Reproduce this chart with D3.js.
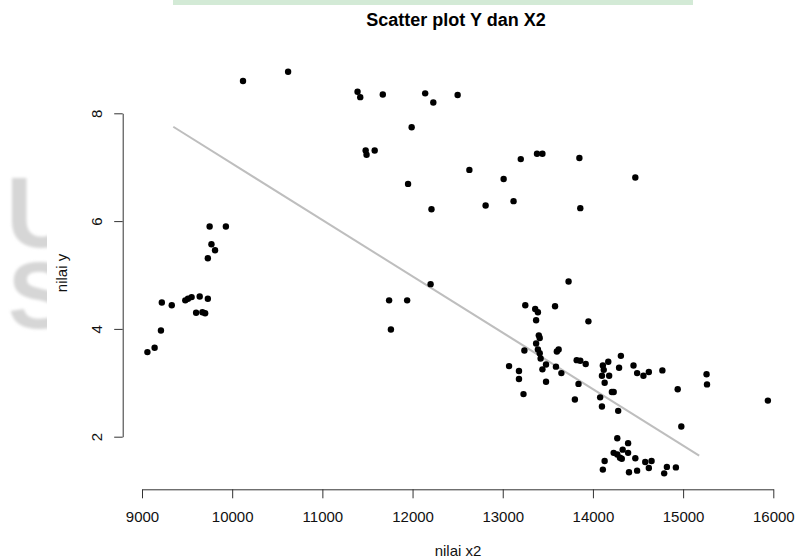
<!DOCTYPE html>
<html>
<head>
<meta charset="utf-8">
<title>Scatter plot Y dan X2</title>
<script src="https://cdn.jsdelivr.net/npm/d3@7"></script>
<style>
  html, body { margin: 0; padding: 0; background: #fff; }
  #chart { width: 795px; height: 559px; }
  text { font-family: "Liberation Sans", Arial, sans-serif; }
</style>
</head>
<body>
<div id="chart"></div>
<script>
"use strict";

const x2Values = [
  10120, 10620, 11390, 11420, 11670, 12140, 12230, 12500, 11990, 11480, 11490, 11580,
  11950, 12210, 12630, 13010, 12810, 13120, 13200, 13380, 13440, 13850, 14470, 13860,
  9750, 9930, 9770, 9810, 9730, 9220, 9330, 9480, 9510, 9550, 9640, 9730, 9600, 9670,
  9700, 9210, 9140, 9060,
  11740, 11940, 11760, 12200,
  13730, 13250, 13360, 13390, 13580, 13370, 13950, 13400, 13410, 13370,
  13240, 13390, 13410, 13600, 13620, 13420, 13480, 13440, 13590, 13650,
  13070, 13180, 13180, 13480, 13230, 13820, 13860, 13920, 13840, 13800,
  14170, 14110, 14120, 14100, 14180, 14130, 14310, 14290, 14450, 14490,
  14560, 14620, 14770, 14210, 14230, 14080, 14100, 14280, 14940, 15260,
  15265, 14980, 15940,
  14270, 14390, 14330, 14230, 14270, 14300, 14320, 14390, 14470, 14130,
  14110, 14400, 14490, 14580, 14650, 14620, 14790, 14820, 14920
];

const yValues = [
  8.60, 8.77, 8.40, 8.30, 8.35, 8.37, 8.20, 8.34, 7.74, 7.31, 7.23, 7.31,
  6.69, 6.22, 6.95, 6.78, 6.29, 6.37, 7.15, 7.25, 7.25, 7.17, 6.81, 6.24,
  5.90, 5.90, 5.57, 5.46, 5.31, 4.49, 4.44, 4.53, 4.56, 4.59, 4.60, 4.56, 4.30, 4.31,
  4.29, 3.97, 3.65, 3.57,
  4.53, 4.53, 3.99, 4.83,
  4.88, 4.44, 4.37, 4.31, 4.42, 4.16, 4.14, 3.88, 3.83, 3.73,
  3.60, 3.62, 3.55, 3.58, 3.62, 3.45, 3.34, 3.25, 3.30, 3.18,
  3.31, 3.22, 3.07, 3.02, 2.79, 3.42, 3.41, 3.35, 2.98, 2.69,
  3.39, 3.32, 3.24, 3.13, 3.13, 3.00, 3.50, 3.28, 3.32, 3.18,
  3.13, 3.20, 3.23, 2.83, 2.83, 2.73, 2.56, 2.48, 2.88, 3.16,
  2.97, 2.19, 2.67,
  1.97, 1.88, 1.76, 1.70, 1.67, 1.61, 1.59, 1.70, 1.60, 1.55,
  1.39, 1.34, 1.37, 1.53, 1.55, 1.42, 1.32, 1.44, 1.43
];

// ends of the fitted line
const fitX = [9347, 15178];
const fitY = [7.75, 1.65];

const xTicks = [9000, 10000, 11000, 12000, 13000, 14000, 15000, 16000];
const yTicks = [2, 4, 6, 8];

window.addEventListener("load", function () {
  draw();
});

function draw() {
  const w = 795;
  const h = 559;

  const xScale = d3.scaleLinear().domain([9000, 16000]).range([142, 773.3]);
  const yScale = d3.scaleLinear().domain([2, 8]).range([436.7, 113.3]);
  const xAxisY = 489.3;
  const yAxisX = 122.7;

  const svg = d3
    .select("#chart")
    .append("svg")
    .attr("width", w)
    .attr("height", h);

  // faint page decorations behind the plot
  svg
    .append("rect")
    .attr("x", 173)
    .attr("y", 0)
    .attr("width", 520)
    .attr("height", 5)
    .attr("fill", "#d3ead6");

  const defs = svg.append("defs");
  defs
    .append("clipPath")
    .attr("id", "wm-clip")
    .append("rect")
    .attr("x", 0)
    .attr("y", 150)
    .attr("width", 47)
    .attr("height", 200);
  defs
    .append("filter")
    .attr("id", "wm-blur")
    .append("feGaussianBlur")
    .attr("stdDeviation", 1.6);

  const wm = svg
    .append("g")
    .attr("clip-path", "url(#wm-clip)")
    .append("g")
    .attr("filter", "url(#wm-blur)")
    .attr("fill", "#d6d6d6")
    .style("font-weight", "bold");
  wm.append("text").attr("x", 6).attr("y", 247).style("font-size", "100px").text("U");
  wm.append("text").attr("x", 8).attr("y", 328).style("font-size", "94px").text("S");

  svg
    .append("text")
    .text("Scatter plot Y dan X2")
    .attr("x", 456)
    .attr("y", 26)
    .attr("text-anchor", "middle")
    .style("font-size", "18px")
    .style("font-weight", "bold");

  // regression line
  const line = d3
    .line()
    .x((d) => xScale(d[0]))
    .y((d) => yScale(d[1]));
  svg
    .append("path")
    .datum(fitX.map((v, i) => [v, fitY[i]]))
    .attr("d", line)
    .attr("fill", "none")
    .attr("stroke", "#bebebe")
    .attr("stroke-width", 2);

  // points
  const data = x2Values.map((v, i) => ({ x: v, y: yValues[i] }));
  svg
    .append("g")
    .selectAll("circle")
    .data(data)
    .enter()
    .append("circle")
    .attr("cx", (d) => xScale(d.x))
    .attr("cy", (d) => yScale(d.y))
    .attr("r", 3.2)
    .attr("fill", "#000");

  // x axis
  const xAxis = svg
    .append("g")
    .attr("transform", `translate(0, ${xAxisY})`)
    .call(
      d3
        .axisBottom(xScale)
        .tickValues(xTicks)
        .tickFormat(d3.format("d"))
        .tickSizeInner(9)
        .tickSizeOuter(0)
        .tickPadding(13.5)
    );
  xAxis.selectAll("text").style("font-size", "15px").attr("fill", "#111");

  // y axis, labels turned like R does
  const yAxis = svg
    .append("g")
    .attr("transform", `translate(${yAxisX}, 0)`)
    .call(
      d3
        .axisLeft(yScale)
        .tickValues(yTicks)
        .tickFormat(d3.format("d"))
        .tickSizeInner(8.5)
        .tickSizeOuter(0)
    );
  yAxis
    .selectAll("text")
    .attr("x", null)
    .attr("dy", "0.35em")
    .attr("text-anchor", "middle")
    .attr("transform", "translate(-26, 0) rotate(-90)")
    .style("font-size", "15px")
    .attr("fill", "#111");

  svg.selectAll(".domain, .tick line").attr("stroke", "#333");

  svg
    .append("text")
    .text("nilai x2")
    .attr("x", 458)
    .attr("y", 556)
    .attr("text-anchor", "middle")
    .style("font-size", "15px")
    .attr("fill", "#111");

  svg
    .append("text")
    .text("nilai y")
    .attr("transform", "translate(67, 273) rotate(-90)")
    .attr("text-anchor", "middle")
    .style("font-size", "15px")
    .attr("fill", "#111");
}
</script>
</body>
</html>
